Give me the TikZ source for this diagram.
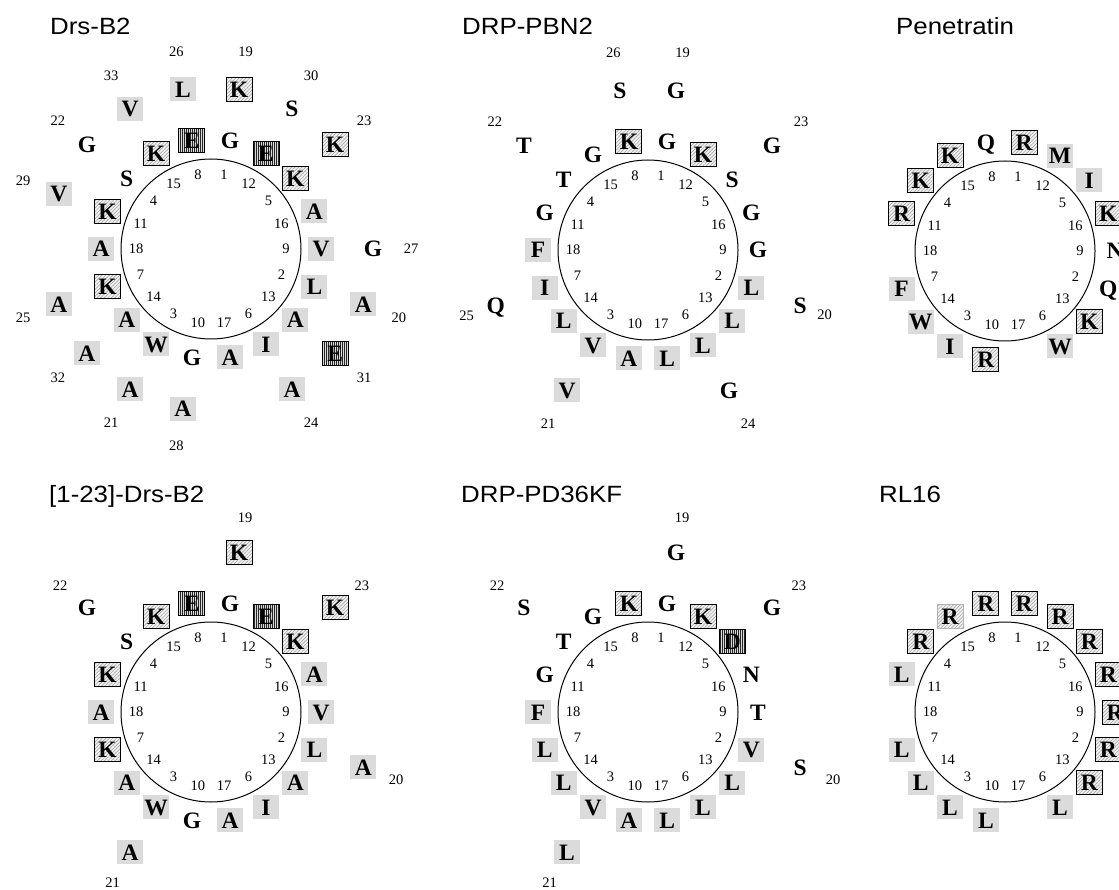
\documentclass[tikz,border=0pt]{standalone}
\usepackage{fontspec}
\setmainfont{Liberation Serif}
\newfontfamily\titlefont[FakeStretch=1.1]{Liberation Sans}
\usetikzlibrary{patterns.meta}

\begin{document}
\begin{tikzpicture}[x=1pt, y=1pt,
    ring/.style={draw, circle, line width=1pt, minimum size=180pt, inner sep=0pt},
    num/.style={font=\fontsize{14.5}{14.5}\selectfont, inner sep=0pt},
    title/.style={font=\titlefont\fontsize{23.5}{24}\selectfont, anchor=base west, inner sep=0pt},
    res/.style={font=\fontsize{23.5}{23.5}\selectfont\bfseries, minimum width=26pt, minimum height=24pt, inner sep=0pt, text height=16pt, text depth=0pt},
    neutres/.style={res},
    hydres/.style={res, fill=gray!28},
    posres/.style={res, draw, line width=0.9pt, preaction={fill=gray!12}, pattern={Lines[angle=45, distance=2.5pt, line width=0.5pt]}, pattern color=gray!75},
    posreslight/.style={posres, draw=gray!60},
    negres/.style={res, draw, line width=0.9pt, preaction={fill=gray!30}, pattern={Lines[angle=90, distance=2pt, line width=0.8pt]}, pattern color=black!85}
]
    \useasboundingbox (0,0) rectangle (1119,-890);
    \clip (0,0) rectangle (1119,-890);

    % titles
    \node[title] (drsTitle) at (50,-35) {Drs-B2};
    \node[title] (pbnTitle) at (462,-35) {DRP-PBN2};
    \node[title] (penTitle) at (896,-35) {Penetratin};
    \node[title] (truncTitle) at (49,-502) {[1-23]-Drs-B2};
    \node[title] (pdTitle) at (461,-502) {DRP-PD36KF};
    \node[title] (rlTitle) at (879,-502) {RL16};

    % Drs-B2
    \begin{scope}[shift={(211,-249)}]
        \node[ring] (drs) at (0,0) {};
        \foreach \i in {1,...,18}
            \node[num] (drs-n\i) at ({80-100*(\i-1)}:75) {\i};
        \foreach \amino/\kind [count=\i] in {G/neutres, L/hydres, W/hydres, S/neutres, K/posres, I/hydres,
            K/posres, E/negres, V/hydres, G/neutres, K/posres, E/negres, A/hydres, A/hydres, K/posres,
            A/hydres, A/hydres, A/hydres, K/posres, A/hydres, A/hydres, G/neutres, K/posres, A/hydres,
            A/hydres, L/hydres, G/neutres, A/hydres, V/hydres, S/neutres, E/negres, A/hydres, V/hydres}{
            \pgfmathsetmacro{\rad}{\i<19 ? 110 : 162}
            \node[\kind] (drs-\i) at ({80-100*(\i-1)}:\rad) {\amino};
        }
        \foreach \i in {19,...,33}
            \node[num] (drs-l\i) at ({80-100*(\i-1)}:200) {\i};
    \end{scope}

    % DRP-PBN2
    \begin{scope}[shift={(648,-250)}]
        \node[ring] (pbn) at (0,0) {};
        \foreach \i in {1,...,18}
            \node[num] (pbn-n\i) at ({80-100*(\i-1)}:75) {\i};
        \foreach \amino/\kind [count=\i] in {G/neutres, L/hydres, V/hydres, T/neutres, S/neutres, L/hydres,
            I/hydres, K/posres, G/neutres, A/hydres, G/neutres, K/posres, L/hydres, L/hydres, G/neutres,
            G/neutres, L/hydres, F/hydres, G/neutres, S/neutres, V/hydres, T/neutres, G/neutres, G/neutres,
            Q/neutres, S/neutres}{
            \pgfmathsetmacro{\rad}{\i<19 ? 110 : 162}
            \node[\kind] (pbn-\i) at ({80-100*(\i-1)}:\rad) {\amino};
        }
        \foreach \i/\r in {19/200, 20/188, 21/200, 22/200, 23/200, 24/200, 25/193, 26/200}
            \node[num] (pbn-l\i) at ({80-100*(\i-1)}:\r) {\i};
    \end{scope}

    % Penetratin
    \begin{scope}[shift={(1005,-251)}]
        \node[ring] (pen) at (0,0) {};
        \foreach \i in {1,...,18}
            \node[num] (pen-n\i) at ({80-100*(\i-1)}:75) {\i};
        \foreach \amino/\kind [count=\i] in {R/posres, Q/neutres, I/hydres, K/posres, I/hydres, W/hydres,
            F/hydres, Q/neutres, N/neutres, R/posres, R/posres, M/hydres, K/posres, W/hydres, K/posres,
            K/posres}
            \node[\kind] (pen-\i) at ({80-100*(\i-1)}:110) {\amino};
    \end{scope}

    % [1-23]-Drs-B2
    \begin{scope}[shift={(211,-712)}]
        \node[ring] (trunc) at (0,0) {};
        \foreach \i in {1,...,18}
            \node[num] (trunc-n\i) at ({80-100*(\i-1)}:75) {\i};
        \foreach \amino/\kind [count=\i] in {G/neutres, L/hydres, W/hydres, S/neutres, K/posres, I/hydres,
            K/posres, E/negres, V/hydres, G/neutres, K/posres, E/negres, A/hydres, A/hydres, K/posres,
            A/hydres, A/hydres, A/hydres, K/posres, A/hydres, A/hydres, G/neutres, K/posres}{
            \pgfmathsetmacro{\rad}{\i<19 ? 110 : 162}
            \node[\kind] (trunc-\i) at ({80-100*(\i-1)}:\rad) {\amino};
        }
        \foreach \i in {19,...,23}
            \node[num] (trunc-l\i) at ({80-100*(\i-1)}:197) {\i};
    \end{scope}

    % DRP-PD36KF
    \begin{scope}[shift={(648,-712)}]
        \node[ring] (pd) at (0,0) {};
        \foreach \i in {1,...,18}
            \node[num] (pd-n\i) at ({80-100*(\i-1)}:75) {\i};
        \foreach \amino/\kind [count=\i] in {G/neutres, V/hydres, V/hydres, T/neutres, D/negres, L/hydres,
            L/hydres, K/posres, T/neutres, A/hydres, G/neutres, K/posres, L/hydres, L/hydres, G/neutres,
            N/neutres, L/hydres, F/hydres, G/neutres, S/neutres, L/hydres, S/neutres, G/neutres}{
            \pgfmathsetmacro{\rad}{\i<19 ? 110 : 162}
            \node[\kind] (pd-\i) at ({80-100*(\i-1)}:\rad) {\amino};
        }
        \foreach \i in {19,...,23}
            \node[num] (pd-l\i) at ({80-100*(\i-1)}:197) {\i};
    \end{scope}

    % RL16
    \begin{scope}[shift={(1005,-712)}]
        \node[ring] (rl) at (0,0) {};
        \foreach \i in {1,...,18}
            \node[num] (rl-n\i) at ({80-100*(\i-1)}:75) {\i};
        \foreach \amino/\kind [count=\i] in {R/posres, R/posres, L/hydres, R/posres, R/posres, L/hydres,
            L/hydres, R/posres, R/posres, L/hydres, L/hydres, R/posres, R/posres, L/hydres, R/posreslight,
            R/posres}
            \node[\kind] (rl-\i) at ({80-100*(\i-1)}:110) {\amino};
    \end{scope}
\end{tikzpicture}
\end{document}
